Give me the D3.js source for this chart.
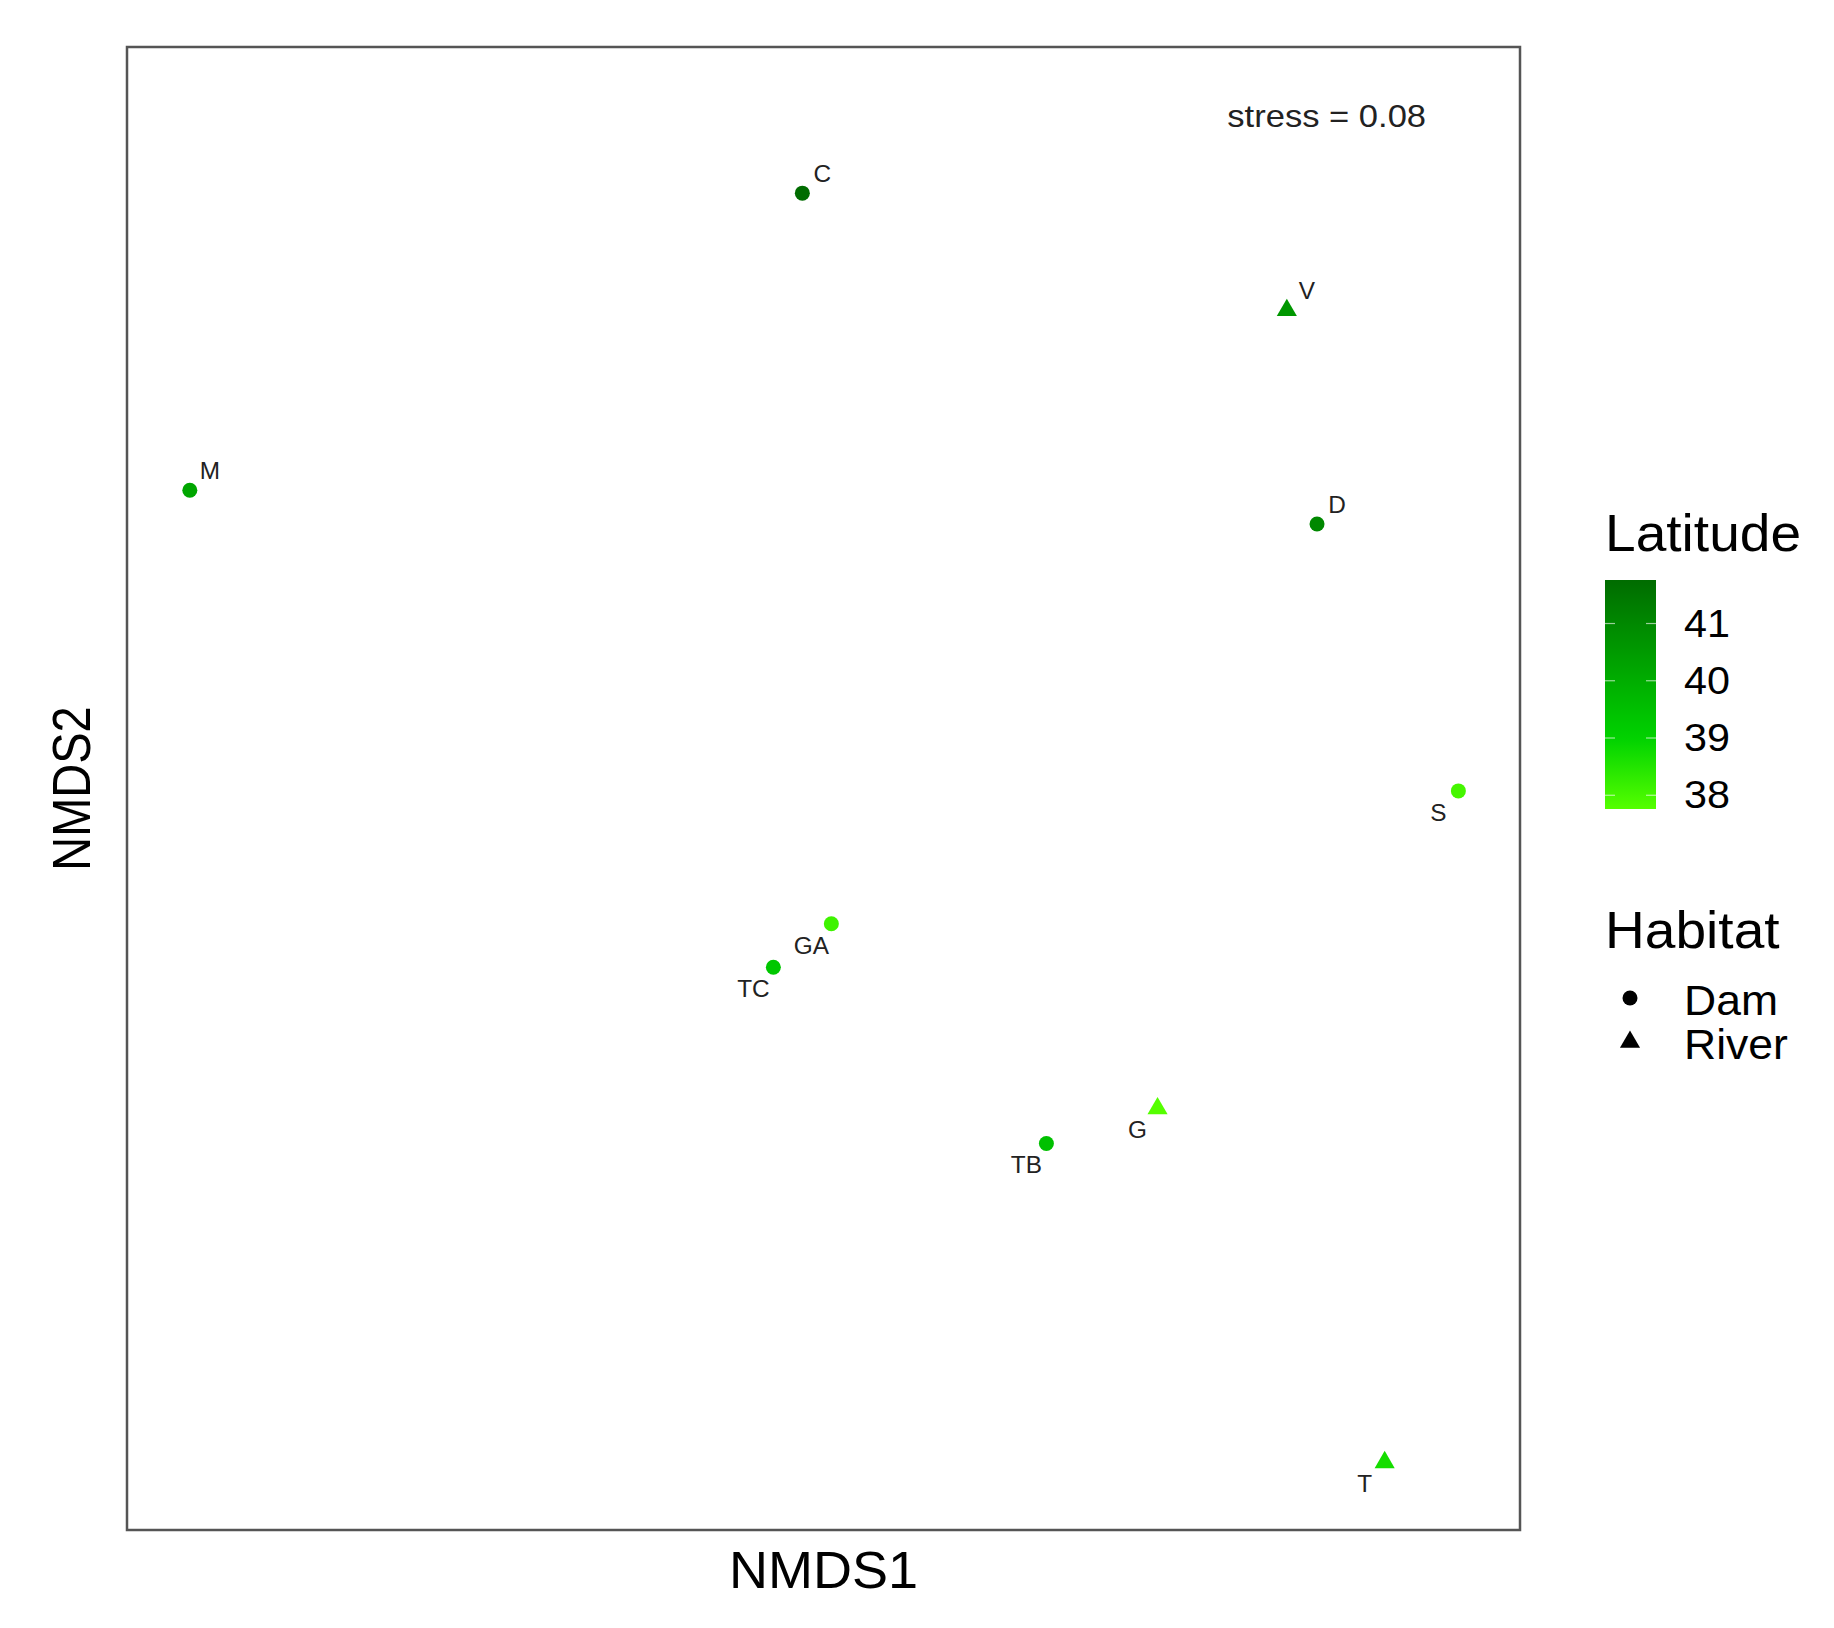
<!DOCTYPE html>
<html>
<head>
<meta charset="utf-8">
<script src="https://cdn.jsdelivr.net/npm/d3@7"></script>
<style>
  html, body { margin: 0; padding: 0; background: #fff; }
  svg { display: block; font-family: "Liberation Sans", Arial, sans-serif; }
</style>
</head>
<body>
<svg id="chart" width="1834" height="1628"></svg>
<script>
// ---------------- data ----------------
const sites    = ["M", "C", "V", "D", "S", "GA", "TC", "TB", "G", "T"];
const nmds1    = [-0.550, -0.043, 0.358, 0.383, 0.500, -0.019, -0.067, 0.159, 0.251, 0.439];
const nmds2    = [0.254, 0.500, 0.403, 0.226, 0.005, -0.105, -0.141, -0.287, -0.258, -0.551];
const latitude = [40.2, 41.76, 40.6, 41.0, 38.0, 38.1, 39.3, 39.5, 37.76, 38.7];
const habitat  = ["Dam", "Dam", "River", "Dam", "Dam", "Dam", "Dam", "Dam", "River", "River"];
const labelSide = ["ur", "ur", "ur", "ur", "ll", "ll", "ll", "ll", "ll", "ll"];
const latTicks = [38, 39, 40, 41];
const habitatLevels = ["Dam", "River"];
const stressText = "stress = 0.08";
const stressPos = [0.391, 0.564];
const xDomain = [-0.602, 0.551];
const yDomain = [-0.607, 0.621];

// ---------------- layout ----------------
const svg = d3.select("#chart");
const panel = { left: 127, top: 47, right: 1520, bottom: 1530 };
const SX = 1.06; // horizontal text stretch seen in the reference

const x = d3.scaleLinear().domain(xDomain).range([panel.left, panel.right]);
const y = d3.scaleLinear().domain(yDomain).range([panel.bottom, panel.top]);

const latExtent = d3.extent(latitude);
const color = d3.scaleLinear()
  .domain([latExtent[0], 39, latExtent[1]])
  .range(["#55ff00", "#00d200", "#006c00"])
  .interpolate(d3.interpolateRgb);

const shape = d3.scaleOrdinal().domain(habitatLevels).range([d3.symbolCircle, d3.symbolTriangle]);
const symbolSize = d => d === "Dam" ? Math.PI * 7.5 * 7.5 : 175;

const data = sites.map((s, i) => ({
  site: s, x: nmds1[i], y: nmds2[i], lat: latitude[i], hab: habitat[i], side: labelSide[i]
}));

function placeText(sel, px, py, sx) {
  return sel.attr("transform", (d, i) => {
    const X = typeof px === "function" ? px(d, i) : px;
    const Y = typeof py === "function" ? py(d, i) : py;
    return `translate(${X},${Y}) scale(${sx},1)`;
  });
}

// panel background + border
svg.append("rect")
  .attr("x", panel.left).attr("y", panel.top)
  .attr("width", panel.right - panel.left).attr("height", panel.bottom - panel.top)
  .attr("fill", "#fff").attr("stroke", "#555").attr("stroke-width", 2.5);

// points
svg.append("g").selectAll("path").data(data).join("path")
  .attr("transform", d => `translate(${x(d.x)},${y(d.y)})`)
  .attr("d", d => d3.symbol().type(shape(d.hab)).size(symbolSize(d.hab))())
  .attr("fill", d => color(d.lat));

// labels
placeText(
  svg.append("g").selectAll("text").data(data).join("text"),
  d => x(d.x) + (d.side === "ur" ? 20 : -20),
  d => y(d.y) + (d.side === "ur" ? -19 : 22), SX)
  .attr("text-anchor", "middle")
  .attr("dominant-baseline", "central")
  .attr("font-size", 23)
  .attr("fill", "#222")
  .text(d => d.site);

// stress annotation
placeText(svg.append("text"), x(stressPos[0]), y(stressPos[1]), 1.08)
  .attr("text-anchor", "middle").attr("dominant-baseline", "central")
  .attr("font-size", 32).attr("fill", "#222")
  .text(stressText);

// axis titles
placeText(svg.append("text"), (panel.left + panel.right) / 2, 1588, SX)
  .attr("text-anchor", "middle").attr("font-size", 51).attr("fill", "#000")
  .text("NMDS1");
svg.append("text")
  .attr("transform", `translate(90,${(panel.top + panel.bottom) / 2}) scale(1.15,1) rotate(-90)`)
  .attr("text-anchor", "middle").attr("font-size", 47).attr("fill", "#000")
  .text("NMDS2");

// ---------------- colour bar legend ----------------
const bar = { x: 1605, w: 51, top: 580, bottom: 809 };
const latScale = d3.scaleLinear().domain(latExtent).range([bar.bottom, bar.top]);

placeText(svg.append("text"), 1605, 551, SX)
  .attr("font-size", 52).attr("fill", "#000")
  .text("Latitude");

const defs = svg.append("defs");
const grad = defs.append("linearGradient").attr("id", "latgrad")
  .attr("x1", 0).attr("y1", 1).attr("x2", 0).attr("y2", 0);
d3.range(0, 1.0001, 0.05).forEach(t => {
  grad.append("stop").attr("offset", t)
    .attr("stop-color", color(latExtent[0] + t * (latExtent[1] - latExtent[0])));
});
svg.append("rect")
  .attr("x", bar.x).attr("y", bar.top)
  .attr("width", bar.w).attr("height", bar.bottom - bar.top)
  .attr("fill", "url(#latgrad)");

const tickG = svg.append("g");
latTicks.forEach(v => {
  const ty = latScale(v);
  tickG.append("line").attr("x1", bar.x).attr("x2", bar.x + 10)
    .attr("y1", ty).attr("y2", ty).attr("stroke", "#fff").attr("stroke-opacity", 0.6).attr("stroke-width", 1.2);
  tickG.append("line").attr("x1", bar.x + bar.w - 10).attr("x2", bar.x + bar.w)
    .attr("y1", ty).attr("y2", ty).attr("stroke", "#fff").attr("stroke-opacity", 0.6).attr("stroke-width", 1.2);
  placeText(tickG.append("text"), 1684, ty, SX)
    .attr("dominant-baseline", "central").attr("font-size", 39).attr("fill", "#000")
    .text(v);
});

// ---------------- shape legend ----------------
placeText(svg.append("text"), 1605, 948, SX)
  .attr("font-size", 52).attr("fill", "#000")
  .text("Habitat");

const keyY = d3.scalePoint().domain(habitatLevels).range([998, 1042]);
const keys = svg.append("g").selectAll("g").data(habitatLevels).join("g")
  .attr("transform", d => `translate(1630,${keyY(d)})`);
keys.append("path")
  .attr("d", d => d3.symbol().type(shape(d)).size(symbolSize(d))())
  .attr("fill", "#000");
placeText(keys.append("text"), 54, 2, SX)
  .attr("dominant-baseline", "central").attr("font-size", 42).attr("fill", "#000")
  .text(d => d);
</script>
</body>
</html>
